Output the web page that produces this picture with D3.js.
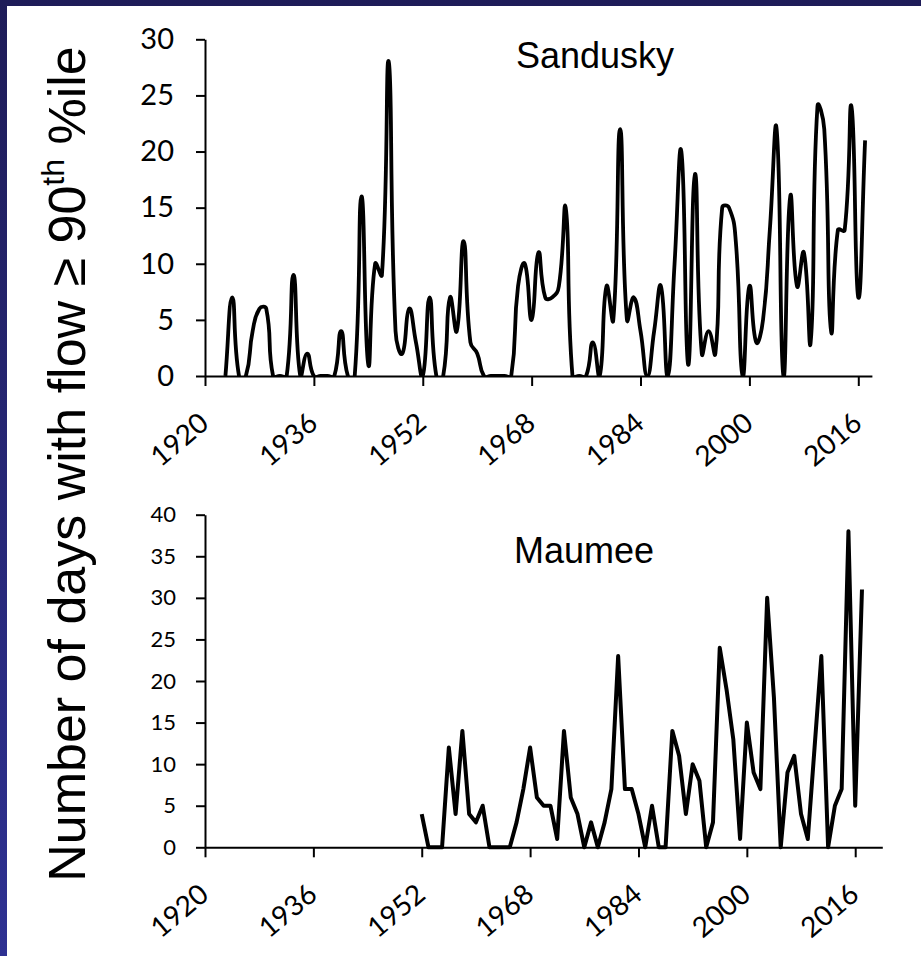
<!DOCTYPE html>
<html>
<head>
<meta charset="utf-8">
<script src="https://cdn.jsdelivr.net/npm/d3@7"></script>
<style>
  html, body { margin: 0; padding: 0; background: #fff; }
  svg { display: block; }
</style>
</head>
<body>
<svg id="chart" width="921" height="956"></svg>
<script>
// ---------- DATA ----------
const sanduskyYears = d3.range(1923, 2018);
const sanduskyValues = [
  0, 7, 0, 0, 4, 6, 6, 0, 0, 0,      // 1923-1932
  9, 0, 2, 0, 0, 0, 0, 4, 0, 0,      // 1933-1942
  16, 1, 10, 9, 28, 4, 2, 6, 3, 0,   // 1943-1952
  7, 0, 0, 7, 4, 12, 3, 2, 0, 0,     // 1953-1962
  0, 0, 0, 8, 10, 5, 11, 7, 7, 8,    // 1963-1972
  15, 0, 0, 0, 3, 0, 8, 5, 22, 5,    // 1973-1982
  7, 4, 0, 4, 8, 0, 10, 20, 1, 18,   // 1983-1992
  2, 4, 2, 15, 15, 12, 0, 8, 3, 5,   // 1993-2002
  13, 22, 0, 16, 8, 11, 3, 24, 22, 4,// 2003-2012
  13, 13, 24, 7, 21                  // 2013-2017
];
const maumeeYears = d3.range(1952, 2018);
const maumeeValues = [
  4, 0, 0, 0, 12, 4, 14, 4, 3, 5,    // 1952-1961
  0, 0, 0, 0, 3, 7, 12, 6, 5, 5,     // 1962-1971
  1, 14, 6, 4, 0, 3, 0, 3, 7, 23,    // 1972-1981
  7, 7, 4, 0, 5, 0, 0, 14, 11, 4,    // 1982-1991
  10, 8, 0, 3, 24, 19, 13, 1, 15, 9, // 1992-2001
  7, 30, 18, 0, 9, 11, 4, 1, 12, 23, // 2002-2011
  0, 5, 7, 38, 5, 31                 // 2012-2017
];
const xTickValues = [1920, 1936, 1952, 1968, 1984, 2000, 2016];
const sanduskyYTicks = [0, 5, 10, 15, 20, 25, 30];
const maumeeYTicks = [0, 5, 10, 15, 20, 25, 30, 35, 40];
const yAxisTitle = "Number of days with flow \u2265 90";
const yAxisTitleSup = "th";
const yAxisTitleEnd = " %ile";

// ---------- Excel-style smoothed curve for d3.line ----------
function ExcelSmooth(context, tension) { this._context = context; this._t = tension; }
ExcelSmooth.prototype = {
  areaStart() { this._line = 0; },
  areaEnd() { this._line = NaN; },
  lineStart() { this._pts = []; },
  point(x, y) { this._pts.push([+x, +y]); },
  lineEnd() {
    const p = this._pts, n = p.length, c = this._context, T = this._t;
    if (!n) return;
    c.moveTo(p[0][0], p[0][1]);
    const dist = (a, b) => Math.hypot(b[0] - a[0], b[1] - a[1]);
    for (let i = 0; i < n - 1; i++) {
      const p0 = p[Math.max(i - 1, 0)], p1 = p[i], p2 = p[i + 1], p3 = p[Math.min(i + 2, n - 1)];
      let d1 = dist(p0, p1), d2 = dist(p1, p2);
      let f = (d1 + d2) ? T * d2 / (d1 + d2) : 0;
      const c1 = [p1[0] + f * (p2[0] - p0[0]), p1[1] + f * (p2[1] - p0[1])];
      d1 = dist(p1, p2); d2 = dist(p2, p3);
      f = (d1 + d2) ? T * d1 / (d1 + d2) : 0;
      const c2 = [p2[0] - f * (p3[0] - p1[0]), p2[1] - f * (p3[1] - p1[1])];
      c.bezierCurveTo(c1[0], c1[1], c2[0], c2[1], p2[0], p2[1]);
    }
  }
};
const excelCurve = ctx => new ExcelSmooth(ctx, 0.5);

// ---------- DRAW ----------
const svg = d3.select("#chart");
const defs = svg.append("defs");
const grad = defs.append("linearGradient").attr("id", "bg").attr("x1", 0).attr("y1", 0).attr("x2", 0).attr("y2", 1);
grad.append("stop").attr("offset", "0%").attr("stop-color", "#1e1c58");
grad.append("stop").attr("offset", "100%").attr("stop-color", "#2e3192");
svg.append("rect").attr("width", 921).attr("height", 956).attr("fill", "url(#bg)");
svg.append("rect").attr("x", 7).attr("y", 6).attr("width", 914).attr("height", 950).attr("fill", "#fff");

function panel(opts) {
  const x = d3.scaleLinear().domain(opts.xDomain).range(opts.xRange);
  const y = d3.scaleLinear().domain(opts.yDomain).range(opts.yRange);
  const g = svg.append("g");

  // series
  const clipId = "clip" + opts.id;
  defs.append("clipPath").attr("id", clipId).append("rect")
    .attr("x", opts.xRange[0]).attr("y", opts.yRange[1] - 5)
    .attr("width", opts.xRange[1] - opts.xRange[0] + 10)
    .attr("height", opts.yRange[0] - opts.yRange[1] + 5);
  const pts = opts.years.map((yr, i) => [yr, opts.values[i]]);
  const line = d3.line().x(d => x(d[0])).y(d => y(d[1])).curve(opts.curve);
  const path = g.append("path").datum(pts)
    .attr("d", line)
    .attr("fill", "none").attr("stroke", "#000")
    .attr("stroke-width", opts.lineWidth).attr("stroke-linejoin", "round").attr("stroke-linecap", "butt");
  if (opts.clip) path.attr("clip-path", `url(#${clipId})`);

  // x axis
  const xAxis = g.append("g").attr("transform", `translate(0,${opts.yRange[0]})`)
    .call(d3.axisBottom(x).tickValues(xTickValues).tickFormat(d3.format("d")).tickSize(10).tickSizeOuter(0));
  xAxis.select(".domain").attr("stroke", "#000").attr("stroke-width", 2);
  xAxis.selectAll(".tick line").attr("stroke", "#000").attr("stroke-width", 2);
  xAxis.selectAll(".tick text")
    .attr("font-family", "Lato, 'Open Sans', sans-serif").attr("font-size", 28).attr("fill", "#000")
    .attr("text-anchor", "end").attr("dy", null).attr("y", 0)
    .attr("transform", "translate(5,50) rotate(-40)");

  // y axis
  const yAxis = g.append("g").attr("transform", `translate(${opts.xRange[0]},0)`)
    .call(d3.axisLeft(y).tickValues(opts.yTicks).tickSize(9).tickSizeOuter(0).tickPadding(opts.yPad));
  yAxis.select(".domain").attr("stroke", "#000").attr("stroke-width", 2);
  yAxis.selectAll(".tick line").attr("stroke", "#000").attr("stroke-width", 2);
  yAxis.selectAll(".tick text")
    .attr("font-family", "Lato, 'Open Sans', sans-serif").attr("font-size", opts.yFont).attr("fill", "#000");

  // title
  g.append("text").attr("x", opts.titleX).attr("y", opts.titleY)
    .attr("font-family", "'Liberation Sans', Arial, sans-serif").attr("font-size", 36).attr("fill", "#000")
    .text(opts.title);
}

panel({
  id: "s", title: "Sandusky", titleX: 516, titleY: 67.5,
  years: sanduskyYears, values: sanduskyValues,
  xDomain: [1920, 2018], xRange: [205, 871.9],
  yDomain: [0, 30], yRange: [376, 39.3], yTicks: sanduskyYTicks,
  yFont: 29, yPad: 22, clip: true, lineWidth: 3.8,
  curve: excelCurve
});
panel({
  id: "m", title: "Maumee", titleX: 514, titleY: 563,
  years: maumeeYears, values: maumeeValues,
  xDomain: [1920, 2020], xRange: [205, 882.3],
  yDomain: [0, 40], yRange: [847.3, 514.7], yTicks: maumeeYTicks,
  yFont: 22, yPad: 20, clip: false, lineWidth: 4,
  curve: d3.curveLinear
});

// y axis title
const t = svg.append("text")
  .attr("transform", "translate(85,464) rotate(-90)")
  .attr("text-anchor", "middle")
  .attr("font-family", "'Liberation Sans', Arial, sans-serif").attr("font-size", 52).attr("fill", "#000");
t.append("tspan").text(yAxisTitle);
t.append("tspan").attr("font-size", 32).attr("baseline-shift", "65%").text(yAxisTitleSup);
t.append("tspan").text(yAxisTitleEnd);
</script>
</body>
</html>
